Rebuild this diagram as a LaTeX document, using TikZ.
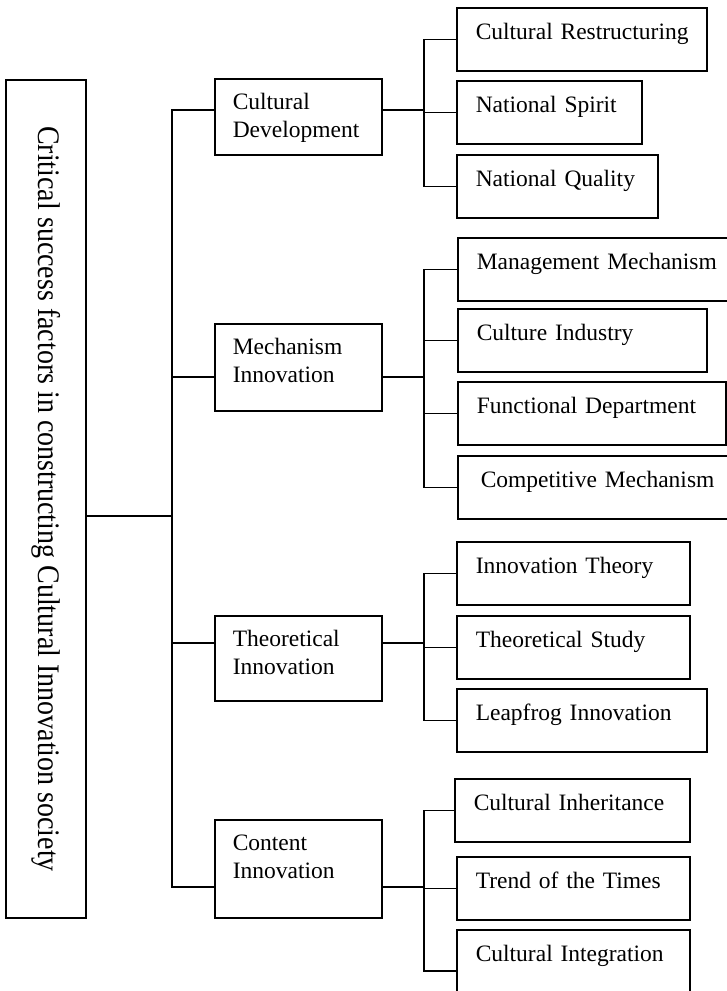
\documentclass[tikz,border=0pt]{standalone}
\usepackage{graphicx}
\usepackage{fontspec}
\setmainfont{Liberation Serif}
\usepackage{tikz}
\tikzset{
  link/.style={draw=black, line width=1.5pt, line cap=rect},
  rootbox/.style={draw=black, line width=1.5pt, rotate=-90, minimum width=838pt, minimum height=80pt, inner sep=0pt, font=\fontsize{28}{34}\selectfont},
  factor/.style={draw=black, line width=1.5pt, anchor=north west, inner xsep=18pt, inner ysep=0pt, text width=131pt, align=left, text height=31pt, text depth=#1, font=\fontsize{23.5}{28}\selectfont},
  leaf/.style={draw=black, line width=1.5pt, anchor=north west, inner xsep=19pt, inner ysep=0pt, text width=#1, align=left, text height=32pt, text depth=31pt, font=\fontsize{23.5}{28}\selectfont,
    execute at begin node={\hbox\bgroup}, execute at end node={\egroup}},
}

\begin{document}
\begin{tikzpicture}[x=1pt, y=-1pt]
  \useasboundingbox (0,0) rectangle (726,991);

  % root
  \node[rootbox] (root) at (46,499) {\scalebox{1}[1.12]{Critical success factors in constructing Cultural Innovation society}};

  % factors
  \node[factor=45pt] (dev) at (214,78) {Cultural\\Development};
  \node[factor=56pt] (mech) at (214,323) {Mechanism\\Innovation};
  \node[factor=54pt] (theo) at (214,615) {Theoretical\\Innovation};
  \node[factor=67pt] (cont) at (214,819) {Content\\Innovation};

  % leaves
  \node[leaf=212pt] (restr) at (456,7) {Cultural Restructuring};
  \node[leaf=147pt] (spirit) at (456,80) {National Spirit};
  \node[leaf=163pt] (quality) at (456,154) {National Quality};
  \node[leaf=252pt] (manage) at (457,237) {Management Mechanism};
  \node[leaf=211pt] (industry) at (457,308) {Culture Industry};
  \node[leaf=230pt] (dept) at (457,381) {Functional Department};
  \node[leaf=248pt, inner xsep=23pt] (compete) at (457,455) {Competitive Mechanism};
  \node[leaf=195pt] (itheory) at (456,541) {Innovation Theory};
  \node[leaf=195pt] (tstudy) at (456,615) {Theoretical Study};
  \node[leaf=212pt] (leap) at (456,688) {Leapfrog Innovation};
  \node[leaf=197pt] (inherit) at (454,778) {Cultural Inheritance};
  \node[leaf=195pt] (trend) at (456,856) {Trend of the Times};
  \node[leaf=195pt, text depth=50pt] (integr) at (456,929) {Cultural Integration};

  % trunk
  \coordinate (tm) at (172,516);
  \coordinate (t1) at (172,110);
  \coordinate (t2) at (172,377);
  \coordinate (t3) at (172,643);
  \coordinate (t4) at (172,887);
  \draw[link] (tm -| root.north) -- (tm);
  \draw[link] (t1) -- (t4);
  \draw[link] (t1) -- (t1 -| dev.west);
  \draw[link] (t2) -- (t2 -| mech.west);
  \draw[link] (t3) -- (t3 -| theo.west);
  \draw[link] (t4) -- (t4 -| cont.west);

  % branches
  \coordinate (j1) at (424,0);
  \draw[link] (t1 -| dev.east) -- (t1 -| j1);
  \draw[link] (j1 |- restr.west) -- (j1 |- quality.west);
  \draw[link] (j1 |- restr.west) -- (restr.west);
  \draw[link] (j1 |- spirit.west) -- (spirit.west);
  \draw[link] (j1 |- quality.west) -- (quality.west);

  \draw[link] (t2 -| mech.east) -- (t2 -| j1);
  \draw[link] (j1 |- manage.west) -- (j1 |- compete.west);
  \draw[link] (j1 |- manage.west) -- (manage.west);
  \draw[link] (j1 |- industry.west) -- (industry.west);
  \draw[link] (j1 |- dept.west) -- (dept.west);
  \draw[link] (j1 |- compete.west) -- (compete.west);

  \draw[link] (t3 -| theo.east) -- (t3 -| j1);
  \draw[link] (j1 |- itheory.west) -- (j1 |- leap.west);
  \draw[link] (j1 |- itheory.west) -- (itheory.west);
  \draw[link] (j1 |- tstudy.west) -- (tstudy.west);
  \draw[link] (j1 |- leap.west) -- (leap.west);

  \draw[link] (t4 -| cont.east) -- (t4 -| j1);
  \draw[link] (j1 |- inherit.west) -- (j1 |- integr.west);
  \draw[link] (j1 |- inherit.west) -- (inherit.west);
  \draw[link] (j1 |- trend.west) -- (trend.west);
  \draw[link] (j1 |- integr.west) -- (integr.west);
\end{tikzpicture}
\end{document}
